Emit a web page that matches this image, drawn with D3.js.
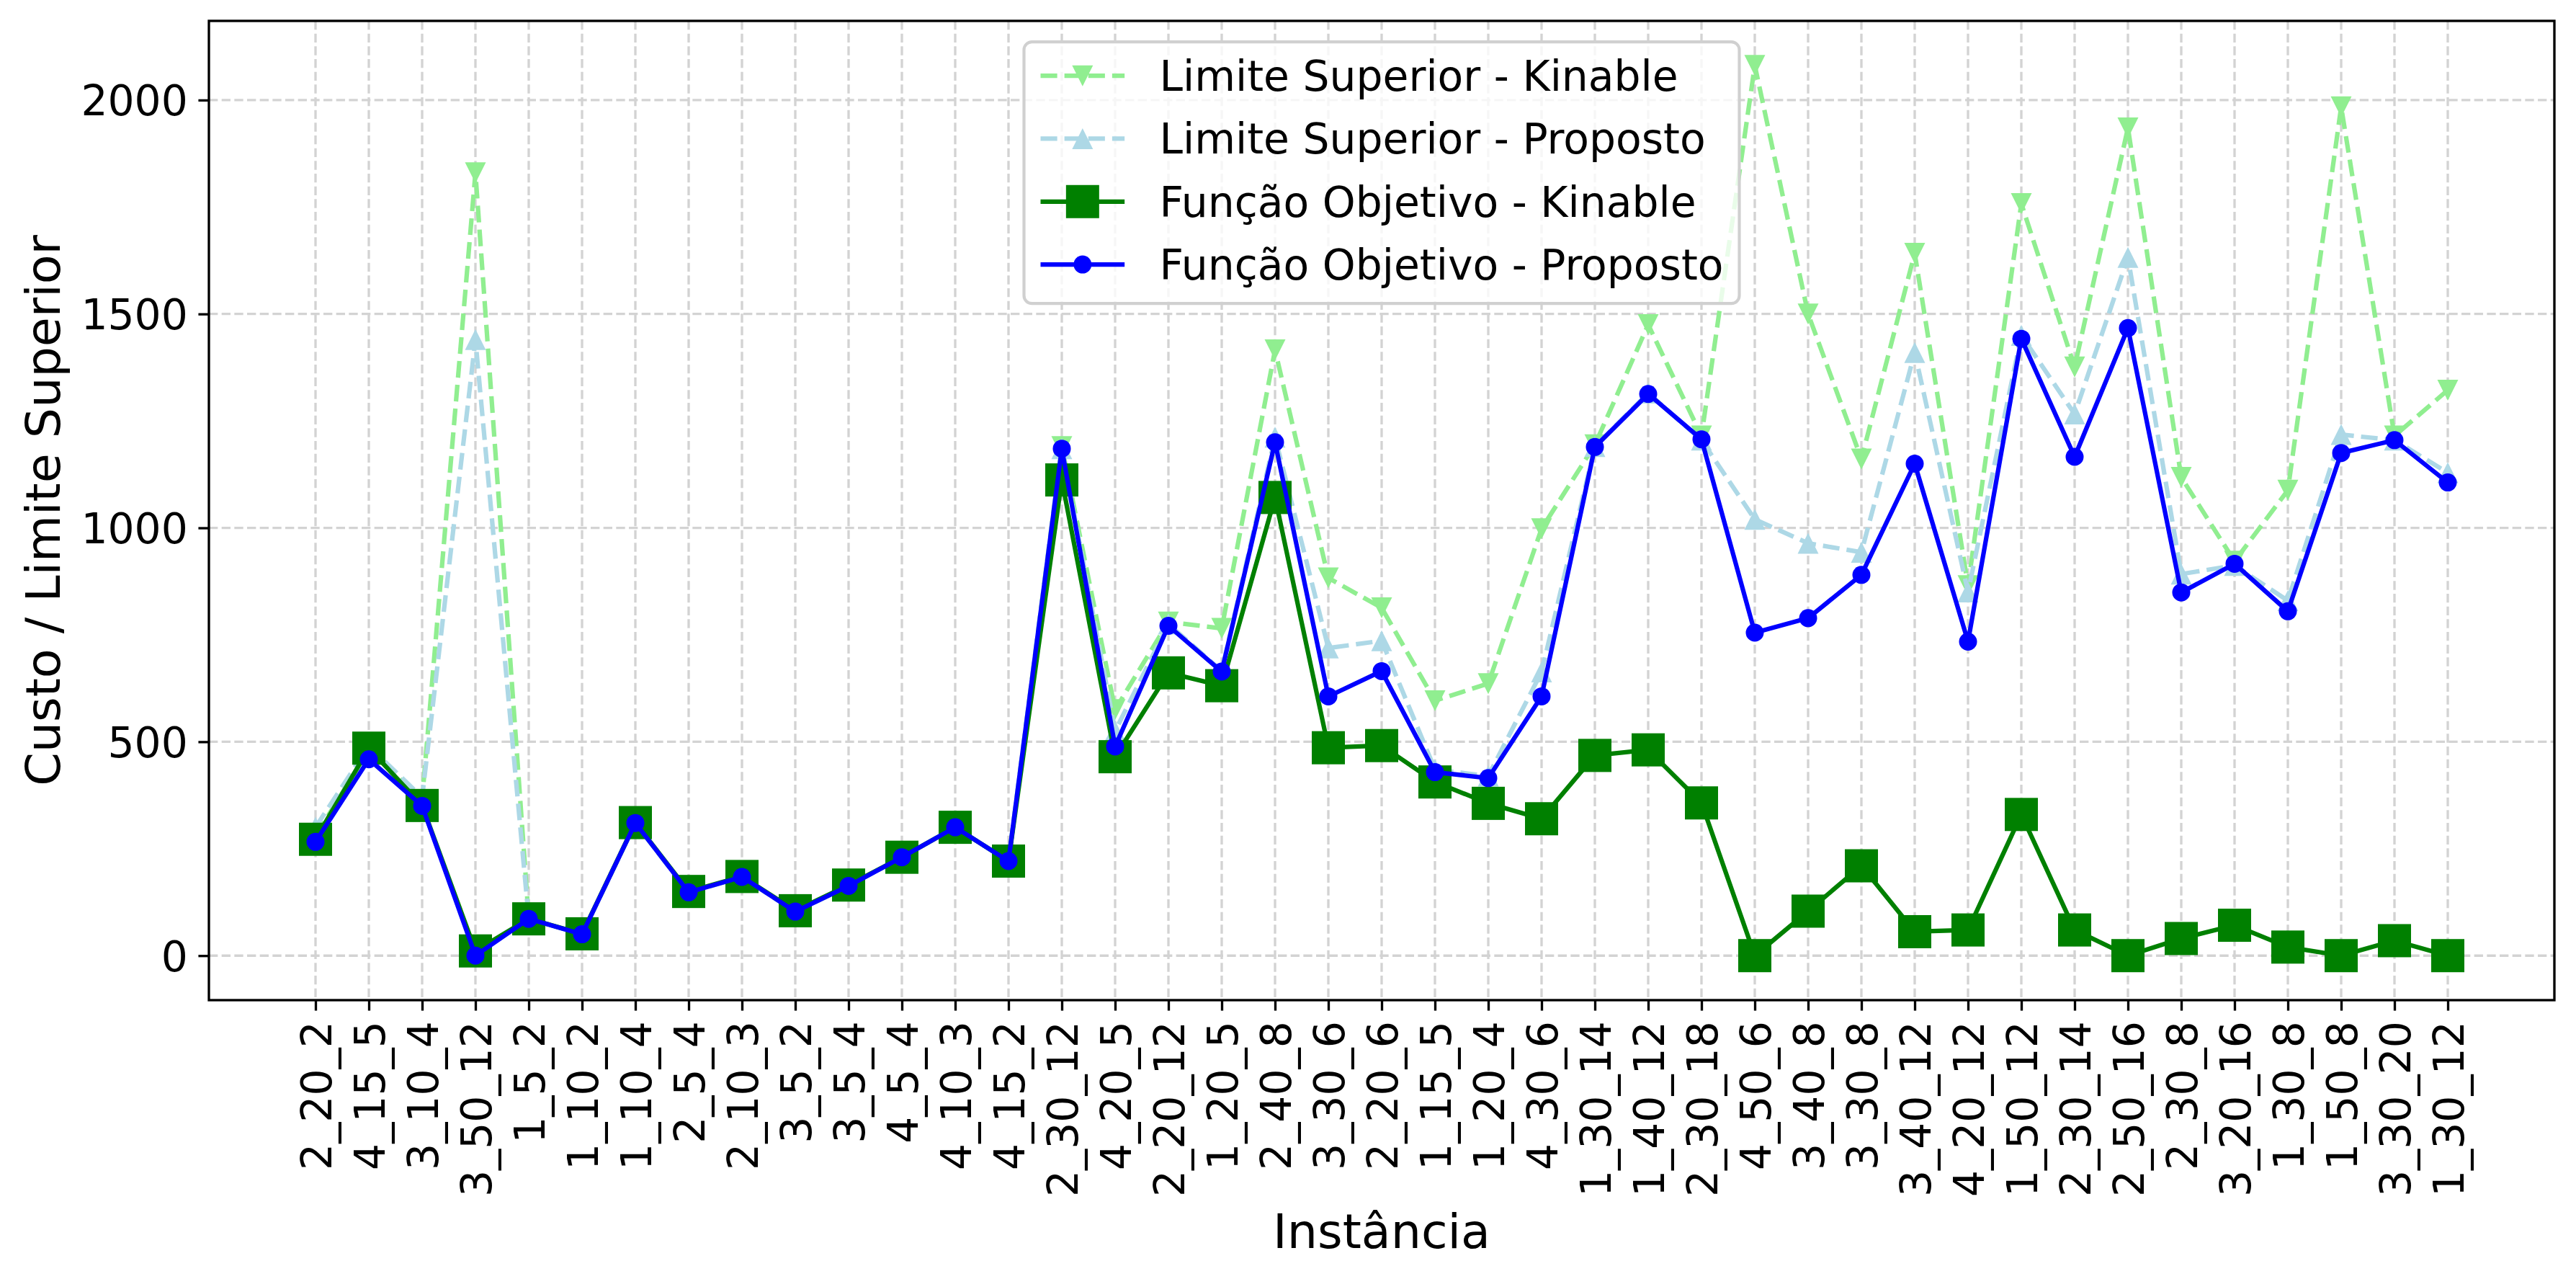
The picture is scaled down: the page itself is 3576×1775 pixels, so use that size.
<!DOCTYPE html>
<html>
<head>
<meta charset="utf-8">
<script src="https://cdn.jsdelivr.net/npm/d3@7"></script>
<style>
  body { margin: 0; background: #fff; }
  svg { display: block; font-family: "DejaVu Sans", sans-serif; }
</style>
</head>
<body>
<svg id="chart" width="3576" height="1775"></svg>
<script>
const instancias = ["2_20_2","4_15_5","3_10_4","3_50_12","1_5_2","1_10_2","1_10_4","2_5_4","2_10_3","3_5_2",
  "3_5_4","4_5_4","4_10_3","4_15_2","2_30_12","4_20_5","2_20_12","1_20_5","2_40_8","3_30_6",
  "2_20_6","1_15_5","1_20_4","4_30_6","1_30_14","1_40_12","2_30_18","4_50_6","3_40_8","3_30_8",
  "3_40_12","4_20_12","1_50_12","2_30_14","2_50_16","2_30_8","3_20_16","1_30_8","1_50_8","3_30_20","1_30_12"];

const limiteKinable = [280, 480, 365, 1830, 86, 50, 310, 148, 184, 103,
  163, 230, 300, 221, 1190, 575, 780, 765, 1416, 883,
  813, 596, 636, 998, 1194, 1475, 1215, 2081, 1500, 1161,
  1642, 865, 1758, 1376, 1935, 1118, 922, 1088, 1984, 1215, 1322];

const limiteProposto = [300, 490, 370, 1440, 86, 50, 310, 148, 184, 103,
  163, 230, 300, 221, 1185, 525, 775, 665, 1212, 719,
  736, 435, 420, 663, 1190, 1315, 1205, 1020, 964, 943,
  1410, 850, 1450, 1266, 1632, 892, 912, 830, 1218, 1205, 1129];

const foKinable = [272, 485, 351, 11, 86, 51, 311, 150, 185, 105,
  165, 230, 300, 221, 1112, 465, 661, 631, 1071, 486,
  491, 406, 356, 320, 468, 481, 357, 0, 104, 210,
  56, 60, 330, 60, 0, 40, 71, 20, 0, 35, 0];

const foProposto = [266, 459, 350, 0, 86, 50, 310, 148, 184, 103,
  163, 230, 300, 221, 1185, 489, 771, 664, 1200, 606,
  665, 429, 415, 606, 1189, 1313, 1207, 755, 789, 890,
  1150, 734, 1442, 1166, 1467, 849, 916, 805, 1175, 1205, 1106];

const yTicks = [0, 500, 1000, 1500, 2000];

const pt = 300 / 72;
const width = 3576, height = 1775;
const margin = { top: 29, right: 30, bottom: 387, left: 290 };
const plotW = width - margin.left - margin.right;
const plotH = height - margin.top - margin.bottom;

const series = [
  { name: "Limite Superior - Kinable", values: limiteKinable, color: "#90EE90", dash: true, marker: "tridown" },
  { name: "Limite Superior - Proposto", values: limiteProposto, color: "#ADD8E6", dash: true, marker: "triup" },
  { name: "Função Objetivo - Kinable", values: foKinable, color: "#008000", dash: false, marker: "square" },
  { name: "Função Objetivo - Proposto", values: foProposto, color: "#0000FF", dash: false, marker: "circle" }
];

const svg = d3.select("#chart");
const g = svg.append("g").attr("transform", `translate(${margin.left},${margin.top})`);

const n = instancias.length;
const x = d3.scaleLinear()
  .domain([-0.05 * (n - 1), (n - 1) * 1.05])
  .range([0, plotW]);

const allVals = series.flatMap(s => s.values);
const yMin = d3.min(allVals), yMax = d3.max(allVals);
const yPad = 0.05 * (yMax - yMin);
const y = d3.scaleLinear()
  .domain([yMin - yPad, yMax + yPad])
  .range([plotH, 0]);

// grid
const gridDash = `${3.7 * 0.8 * pt},${1.6 * 0.8 * pt}`;
g.append("g").selectAll("line")
  .data(d3.range(n))
  .join("line")
  .attr("x1", d => x(d)).attr("x2", d => x(d))
  .attr("y1", 0).attr("y2", plotH)
  .attr("stroke", "#d3d3d3")
  .attr("stroke-width", 0.8 * pt)
  .attr("stroke-dasharray", gridDash);
g.append("g").selectAll("line")
  .data(yTicks)
  .join("line")
  .attr("x1", 0).attr("x2", plotW)
  .attr("y1", d => y(d)).attr("y2", d => y(d))
  .attr("stroke", "#d3d3d3")
  .attr("stroke-width", 0.8 * pt)
  .attr("stroke-dasharray", gridDash);

// markers
const triHalf = 14.5;
function drawMarker(sel, type, color) {
  if (type === "square") {
    sel.append("rect")
      .attr("x", -23).attr("y", -23).attr("width", 46).attr("height", 46)
      .attr("fill", color);
  } else if (type === "circle") {
    sel.append("circle").attr("r", 12.5).attr("fill", color);
  } else if (type === "triup") {
    sel.append("path")
      .attr("d", `M0,${-triHalf}L${triHalf},${triHalf}L${-triHalf},${triHalf}Z`)
      .attr("fill", color);
  } else {
    sel.append("path")
      .attr("d", `M0,${triHalf}L${triHalf},${-triHalf}L${-triHalf},${-triHalf}Z`)
      .attr("fill", color);
  }
}

const line = d3.line()
  .x((d, i) => x(i))
  .y(d => y(d));

const lw = 1.5 * pt;
series.forEach(s => {
  const sg = g.append("g");
  sg.append("path")
    .datum(s.values)
    .attr("fill", "none")
    .attr("stroke", s.color)
    .attr("stroke-width", lw)
    .attr("stroke-linejoin", "round")
    .attr("stroke-dasharray", s.dash ? `${3.7 * lw},${1.6 * lw}` : null)
    .attr("d", line);
  sg.selectAll("g.mk")
    .data(s.values)
    .join("g")
    .attr("class", "mk")
    .attr("transform", (d, i) => `translate(${x(i)},${y(d)})`)
    .each(function () { drawMarker(d3.select(this), s.marker, s.color); });
});

// axes
const fontTick = 14 * pt;
const tickLen = 3.5 * pt;

const xAxis = g.append("g")
  .attr("transform", `translate(0,${plotH})`)
  .call(d3.axisBottom(x)
    .tickValues(d3.range(n))
    .tickFormat(i => instancias[i])
    .tickSize(tickLen)
    .tickSizeOuter(0));
xAxis.select(".domain").remove();
xAxis.selectAll(".tick line").attr("stroke", "#000").attr("stroke-width", 0.8 * pt);
xAxis.selectAll(".tick text")
  .attr("transform", "rotate(-90)")
  .attr("text-anchor", "end")
  .attr("x", -(tickLen + 3.5 * pt))
  .attr("y", 0)
  .attr("dy", "0.36em")
  .attr("font-size", fontTick)
  .attr("font-family", "DejaVu Sans")
  .attr("fill", "#000");

const yAxis = g.append("g")
  .call(d3.axisLeft(y)
    .tickValues(yTicks)
    .tickFormat(d3.format("d"))
    .tickSize(tickLen)
    .tickPadding(3.5 * pt)
    .tickSizeOuter(0));
yAxis.select(".domain").remove();
yAxis.selectAll(".tick line").attr("stroke", "#000").attr("stroke-width", 0.8 * pt);
yAxis.selectAll(".tick text")
  .attr("font-size", fontTick)
  .attr("font-family", "DejaVu Sans")
  .attr("dy", "0.36em")
  .attr("fill", "#000");

// frame
g.append("rect")
  .attr("x", 0).attr("y", 0)
  .attr("width", plotW).attr("height", plotH)
  .attr("fill", "none")
  .attr("stroke", "#000")
  .attr("stroke-width", 0.8 * pt);

// axis labels
const fontLabel = 16 * pt;
svg.append("text")
  .attr("x", margin.left + plotW / 2)
  .attr("y", 1732)
  .attr("text-anchor", "middle")
  .attr("font-size", fontLabel)
  .text("Instância");

svg.append("text")
  .attr("transform", `translate(83,${margin.top + plotH / 2}) rotate(-90)`)
  .attr("text-anchor", "middle")
  .attr("font-size", fontLabel)
  .text("Custo / Limite Superior");

// legend
const legW = 993, legH = 363;
const legX = margin.left + plotW / 2 - legW / 2;
const legY = margin.top + 0.5 * fontTick;
const leg = svg.append("g").attr("transform", `translate(${legX},${legY})`);
leg.append("rect")
  .attr("width", legW).attr("height", legH)
  .attr("rx", 11).attr("ry", 11)
  .attr("fill", "#fff").attr("fill-opacity", 0.8)
  .attr("stroke", "#d0d0d0")
  .attr("stroke-width", 1 * pt);

series.forEach((s, k) => {
  const ry = 47 + k * 87.3;
  const row = leg.append("g").attr("transform", `translate(0,${ry})`);
  row.append("line")
    .attr("x1", 23).attr("x2", 23 + 2 * fontTick)
    .attr("stroke", s.color)
    .attr("stroke-width", lw)
    .attr("stroke-dasharray", s.dash ? `${3.7 * lw},${1.6 * lw}` : null);
  const mk = row.append("g").attr("transform", `translate(${23 + fontTick},0)`);
  drawMarker(mk, s.marker, s.color);
  row.append("text")
    .attr("x", 188)
    .attr("y", 21)
    .attr("font-size", fontTick)
    .attr("fill", "#000")
    .text(s.name);
});
</script>
</body>
</html>
